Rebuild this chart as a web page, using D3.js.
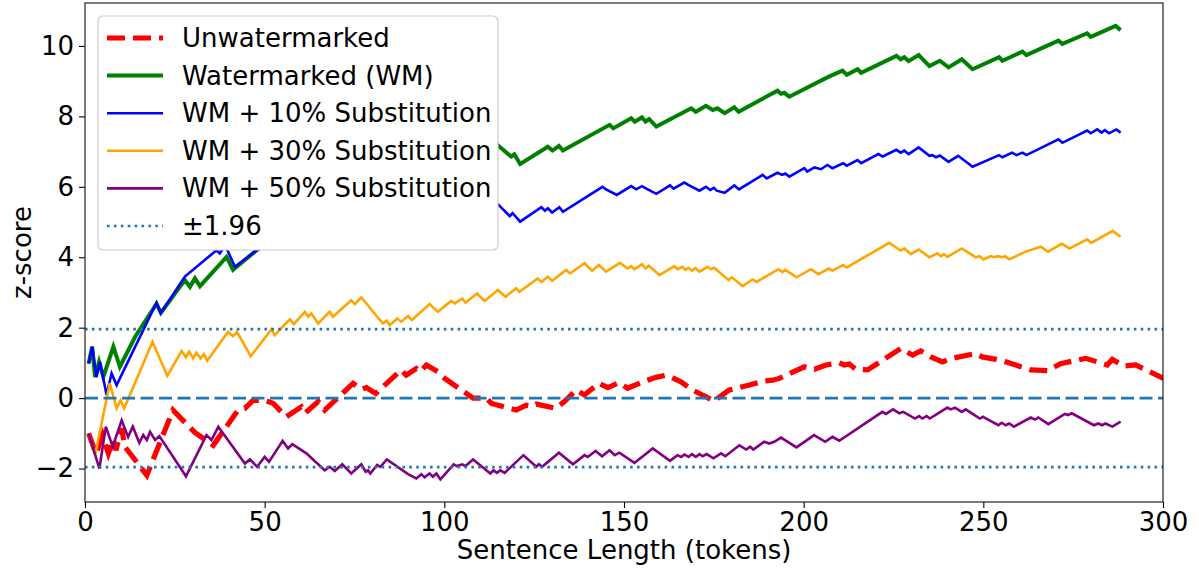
<!DOCTYPE html>
<html lang="en">
<head>
  <meta charset="utf-8">
  <title>z-score vs sentence length</title>
  <script src="https://d3js.org/d3.v7.min.js"></script>
  <style>
    body { margin: 0; background: #fff; }
    svg { display: block; font-family: "DejaVu Sans", sans-serif; }
  </style>
</head>
<body>
  <svg id="chart" width="1199" height="570"></svg>
  <script>
    // ---- data ----
    const xTicks = [0, 50, 100, 150, 200, 250, 300];
    const yTicks = [-2, 0, 2, 4, 6, 8, 10];

    const unwmT = [1,3.1,4.9,6.5,7.9,8.6,10.2,11.1,17.2,24.5,30.6,35.7,42.6,44.5,46.8,50.5,52.4,54.2,56,60.2,61.2,64.9,66.7,74.6,76.9,78.3,80.9,88,89.4,92.2,93.3,95,98.2,100.1,108,111.7,113.1,120,122.8,124.6,125.6,131.1,133.4,136.7,139,143,145.5,148.7,151,155.2,158.9,161.7,163.1,165.9,168.7,171,175.1,179.3,182.1,184.9,188.6,191.4,193.2,200.2,203,206.2,209.9,211.3,212.7,214.5,217.8,227,230.3,232.6,235.4,238.6,241.4,247.9,249.7,253.5,256.2,263.2,267.8,271.5,278.5,284.5,285.9,289.1,292.4,301];
    const unwmZ = [-1.0,-1.59,-1.05,-1.57,-1.17,-1.48,-0.86,-1.38,-2.19,-0.34,-0.98,-1.34,-0.34,-0.29,-0.06,-0.08,-0.15,-0.34,-0.53,-0.25,-0.43,-0.1,-0.34,0.42,0.25,0.3,0.13,0.8,0.65,0.84,0.75,0.94,0.75,0.56,0,0,-0.15,-0.34,-0.2,-0.23,-0.17,-0.29,-0.1,0.23,0.09,0.42,0.3,0.44,0.28,0.46,0.59,0.65,0.6,0.46,0.25,0.13,-0.08,0.23,0.3,0.37,0.48,0.51,0.56,0.89,0.82,0.94,1.0,0.94,0.97,0.82,0.8,1.41,1.22,1.34,1.17,1.03,1.13,1.27,1.17,1.1,1.03,0.8,0.78,0.98,1.13,0.94,1.1,0.91,0.94,0.52];

    const wmT = [1,2,2.8,3.9,5.1,7.9,9.7,14,19.9,21.1,27.8,29.2,30.6,32,39.4,41.2,47.3,55,60,70,80,85,95,100,108,111,114.8,118.6,119.5,121.1,128.8,130.1,131.9,133,146,147,152,153,155,156,157,159,168.7,170,172.8,174.7,176,178,180.7,181.9,192.7,193.7,194.6,196,207,210.8,212,215,216,225.8,227,228,229.2,232,235,237.9,240.3,244,247,254.4,255.3,260.9,262,270.9,272,278.9,279.9,286.8,288.2];
    const wmZ = [0.98,1.46,0.6,1.03,0.6,1.46,0.89,1.75,2.68,2.42,3.35,3.16,3.4,3.18,4.01,3.64,4.16,4.9,4.7,5.5,5.9,5.7,6.5,6.3,7.0,6.8,7.19,6.86,6.92,6.65,7.14,7.03,7.16,7.03,7.76,7.66,7.95,7.85,7.97,7.85,7.92,7.71,8.23,8.13,8.3,8.18,8.23,8.09,8.26,8.13,8.73,8.64,8.67,8.56,9.13,9.3,9.18,9.34,9.24,9.72,9.62,9.68,9.57,9.74,9.43,9.58,9.39,9.62,9.34,9.68,9.58,9.84,9.74,10.15,10.06,10.36,10.26,10.57,10.45];

    const sub10T = [1,2,3.2,4.2,6,7.4,8.8,19.9,21.1,27.8,36.6,37.5,39,41.7,47.3,55,65,75,85,95,105,111,114.9,118.2,119,121.1,127,128,128.8,130,132,133,144,145,148,152,153.4,155,156.6,159,162.8,163.8,166.8,168,171,172.8,174,175,175.8,178,180.7,182,188.6,189.7,192.7,194,194.9,196,200.2,201,203,204.8,206.6,208,211,212,215,216,220.8,222,225.8,227,228,229.2,232,235,235.8,236.8,237.9,240.3,243,247,254.4,255.3,258,259.2,260.9,262,270.9,272,278.9,279.9,281.7,282.9,283.8,285,287,288.2];
    const sub10Z = [0.98,1.46,0.6,1.03,0.09,0.7,0.37,2.71,2.42,3.45,4.2,4.11,4.35,3.73,4.16,4.6,4.9,5.2,5.0,5.4,5.3,5.6,5.51,5.17,5.25,5.01,5.42,5.32,5.39,5.27,5.42,5.29,6.0,5.93,5.77,6.02,5.93,6.02,5.93,5.8,6.04,5.95,6.12,6.05,5.89,6.0,5.91,5.97,5.89,5.83,6.04,5.93,6.34,6.24,6.4,6.34,6.38,6.29,6.53,6.43,6.55,6.5,6.62,6.53,6.67,6.6,6.76,6.67,6.93,6.86,7.05,6.97,7.03,6.93,7.12,6.88,6.9,6.84,6.89,6.71,6.88,6.57,6.9,6.84,6.97,6.9,6.97,6.9,7.35,7.25,7.6,7.52,7.63,7.54,7.61,7.52,7.63,7.54];

    const sub30T = [1,2.8,6.9,8.8,9.9,10.9,18.8,22.9,26.9,28.1,29,30.1,31,32.2,33.1,34,39.8,41.2,42.3,46.1,51.9,52.8,57,58.1,61.2,62.1,63,64.9,68.1,69,74.1,75.1,76.9,82.9,83.9,84.8,86.9,88,89.9,91,95.9,98.2,101.9,102.9,105,105.9,109.1,111.2,114.9,117,120,120.9,126,127,128.8,130,133.9,135,139,141.1,143,145,148.9,151,152,152.9,155,156,156.9,159.9,164,164.9,166.2,167.1,168,168.9,169.9,171,173.3,174.2,175.1,179.1,180,183,185.8,186.9,193,194.1,194.9,198,202,204.1,207,208,211,212,223.8,227,228,229.8,232,235,237.2,238.2,239,240,244,247.9,249,250,252,253,254,255.3,256,257.2,261.8,266,268,271.8,274,278.9,280,286,288.2];
    const sub30Z = [-1.0,-1.62,0.42,-0.29,-0.06,-0.29,1.6,0.63,1.34,1.16,1.32,1.13,1.29,1.13,1.25,1.06,1.88,1.76,1.88,1.19,1.95,1.79,2.24,2.1,2.45,2.31,2.4,2.12,2.45,2.31,2.78,2.67,2.86,2.12,2.2,2.07,2.26,2.17,2.33,2.22,2.67,2.45,2.76,2.69,2.83,2.71,2.97,2.76,3.07,2.88,3.12,3.02,3.4,3.3,3.45,3.33,3.64,3.54,3.83,3.62,3.78,3.59,3.84,3.68,3.75,3.66,3.8,3.68,3.76,3.49,3.75,3.66,3.73,3.64,3.7,3.62,3.69,3.59,3.73,3.66,3.7,3.35,3.43,3.18,3.37,3.3,3.66,3.58,3.64,3.43,3.66,3.52,3.68,3.62,3.78,3.71,4.41,4.19,4.25,4.09,4.22,4.0,4.11,4.03,4.09,4.01,4.25,4.0,4.03,3.94,4.03,4.0,4.03,4.0,4.03,3.94,4.16,4.3,4.16,4.38,4.25,4.51,4.41,4.75,4.58];

    const sub50T = [1,4,5.8,7.7,10.2,12,13.3,15.1,16.2,17.2,18.1,19.5,20.7,28.1,33.8,35.2,37.1,44.5,45.9,47.9,50,51.2,55,56.5,57.7,61.6,66.7,68.1,69.5,71.6,74.1,76.9,78.1,78.8,79.4,81.3,82.2,84,89.9,92.2,93.6,94.5,95.9,96.8,97.8,98.9,102.6,103.5,105,105.9,108,112.8,113.7,114.6,115.6,116.8,122,125.6,126.3,127.2,131.9,135.8,139,139.9,142.1,143.9,146,147.4,148.7,152.9,158,162.8,164.9,165.9,166.8,168,168.9,170,171,171.9,173,174.9,177,178.2,182.1,184,185.1,186,189,190.4,191.8,193.7,198,202.9,206,208,209.9,221.9,222.9,224.9,226.6,227.7,231,232.1,233,234.2,235.1,240,240.9,242.1,244,245.1,249,249.9,250.8,254.2,255.1,256.2,257.2,258.5,263.2,264.4,265.3,268.1,272.7,273.6,274.6,280.8,282,283.1,284,285.9,288.2];
    const sub50Z = [-1.0,-2.0,-0.81,-1.38,-0.63,-1.1,-0.81,-1.27,-1.05,-1.19,-0.96,-1.19,-1.08,-2.22,-1.05,-1.19,-0.81,-1.86,-1.74,-1.95,-1.67,-1.81,-1.21,-1.43,-1.31,-1.57,-2.05,-1.95,-2.07,-1.88,-2.14,-1.88,-2.09,-2.05,-2.14,-1.9,-1.95,-1.74,-2.16,-2.28,-2.16,-2.25,-2.14,-2.23,-2.14,-2.31,-1.88,-1.93,-1.88,-1.93,-1.74,-2.14,-2.05,-2.12,-2.05,-2.12,-1.62,-1.95,-1.88,-1.95,-1.55,-1.88,-1.62,-1.67,-1.5,-1.65,-1.48,-1.62,-1.55,-1.84,-1.43,-1.78,-1.62,-1.67,-1.6,-1.67,-1.59,-1.67,-1.59,-1.65,-1.59,-1.71,-1.57,-1.65,-1.34,-1.46,-1.38,-1.46,-1.24,-1.29,-1.24,-1.12,-1.4,-1.05,-1.24,-1.1,-1.21,-0.39,-0.45,-0.32,-0.43,-0.39,-0.58,-0.51,-0.58,-0.51,-0.58,-0.27,-0.32,-0.27,-0.39,-0.32,-0.58,-0.53,-0.58,-0.77,-0.7,-0.77,-0.72,-0.81,-0.55,-0.61,-0.55,-0.74,-0.45,-0.48,-0.43,-0.77,-0.72,-0.77,-0.72,-0.81,-0.67];

    const threshold = 1.96;

    const series = [
      { name: "Unwatermarked", t: unwmT, z: unwmZ, color: "#ff0000", width: 5.2, dash: "18,8" },
      { name: "Watermarked (WM)", t: wmT, z: wmZ, color: "#008000", width: 4, dash: null },
      { name: "WM + 10% Substitution", t: sub10T, z: sub10Z, color: "#0000ff", width: 2.6, dash: null },
      { name: "WM + 30% Substitution", t: sub30T, z: sub30Z, color: "#ffa500", width: 2.6, dash: null },
      { name: "WM + 50% Substitution", t: sub50T, z: sub50Z, color: "#800080", width: 2.6, dash: null }
    ];

    // ---- layout ----
    const svg = d3.select("#chart");
    const plotLeft = 85, plotRight = 1163, plotTop = 3, plotBottom = 502;
    const fontSize = "26px";

    const x = d3.scaleLinear().domain([0, 300]).range([plotLeft, plotRight]);
    const y = d3.scaleLinear().domain([-2.95, 11.22]).range([plotBottom, plotTop]);

    svg.append("defs").append("clipPath").attr("id", "plotclip")
      .append("rect").attr("x", plotLeft).attr("y", plotTop)
      .attr("width", plotRight - plotLeft).attr("height", plotBottom - plotTop);

    const plot = svg.append("g").attr("clip-path", "url(#plotclip)");

    const line = d3.line().x(d => x(d[0])).y(d => y(d[1]));

    series.forEach(s => {
      plot.append("path")
        .datum(s.t.map((t, i) => [t, s.z[i]]))
        .attr("d", line)
        .attr("fill", "none")
        .attr("stroke", s.color)
        .attr("stroke-width", s.width)
        .attr("stroke-linejoin", "miter")
        .attr("stroke-dasharray", s.dash);
    });

    // reference lines
    plot.append("line")
      .attr("x1", plotLeft).attr("x2", plotRight)
      .attr("y1", y(0)).attr("y2", y(0))
      .attr("stroke", "#1f77b4").attr("stroke-width", 2.6)
      .attr("stroke-dasharray", "13,5.5");

    [threshold, -threshold].forEach(v => {
      plot.append("line")
        .attr("x1", plotLeft).attr("x2", plotRight)
        .attr("y1", y(v)).attr("y2", y(v))
        .attr("stroke", "#1f77b4").attr("stroke-width", 2.6)
        .attr("stroke-dasharray", "2.6,4.3");
    });

    // axes
    const xAxis = svg.append("g")
      .attr("transform", `translate(0,${plotBottom})`)
      .call(d3.axisBottom(x).tickValues(xTicks).tickSize(6).tickPadding(5).tickFormat(d3.format("d")));
    const yAxis = svg.append("g")
      .attr("transform", `translate(${plotLeft},0)`)
      .call(d3.axisLeft(y).tickValues(yTicks).tickSize(6).tickPadding(5)
        .tickFormat(d => d < 0 ? "\u2212" + Math.abs(d) : d));

    [xAxis, yAxis].forEach(a => {
      a.select(".domain").remove();
      a.selectAll("line").attr("stroke", "#000").attr("stroke-width", 1.1);
      a.selectAll("text").attr("fill", "#000")
        .style("font-size", fontSize).style("font-family", "'DejaVu Sans', sans-serif");
    });

    // frame
    svg.append("rect")
      .attr("x", plotLeft).attr("y", plotTop)
      .attr("width", plotRight - plotLeft).attr("height", plotBottom - plotTop)
      .attr("fill", "none").attr("stroke", "#222").attr("stroke-width", 1.2);

    // axis labels
    svg.append("text")
      .attr("x", (plotLeft + plotRight) / 2).attr("y", 559)
      .attr("text-anchor", "middle")
      .style("font-size", fontSize)
      .text("Sentence Length (tokens)");

    svg.append("text")
      .attr("transform", `translate(31,${(plotTop + plotBottom) / 2}) rotate(-90)`)
      .attr("text-anchor", "middle")
      .style("font-size", fontSize)
      .text("z-score");

    // legend
    const legendItems = series.map(s => ({ name: s.name, color: s.color, width: s.width, dash: s.dash }))
      .concat([{ name: "\u00b11.96", color: "#1f77b4", width: 2.6, dash: "2.6,4.3" }]);

    const legend = svg.append("g");
    legend.append("rect")
      .attr("x", 98).attr("y", 16)
      .attr("width", 400).attr("height", 234)
      .attr("rx", 5)
      .attr("fill", "#fff").attr("fill-opacity", 1)
      .attr("stroke", "#cccccc").attr("stroke-width", 1.2);

    legendItems.forEach((d, i) => {
      const cy = 38 + i * 37.6;
      legend.append("line")
        .attr("x1", 107).attr("x2", 163)
        .attr("y1", cy).attr("y2", cy)
        .attr("stroke", d.color).attr("stroke-width", d.width)
        .attr("stroke-dasharray", d.dash);
      legend.append("text")
        .attr("x", 182).attr("y", cy + 9)
        .style("font-size", fontSize)
        .text(d.name);
    });
  </script>
</body>
</html>
